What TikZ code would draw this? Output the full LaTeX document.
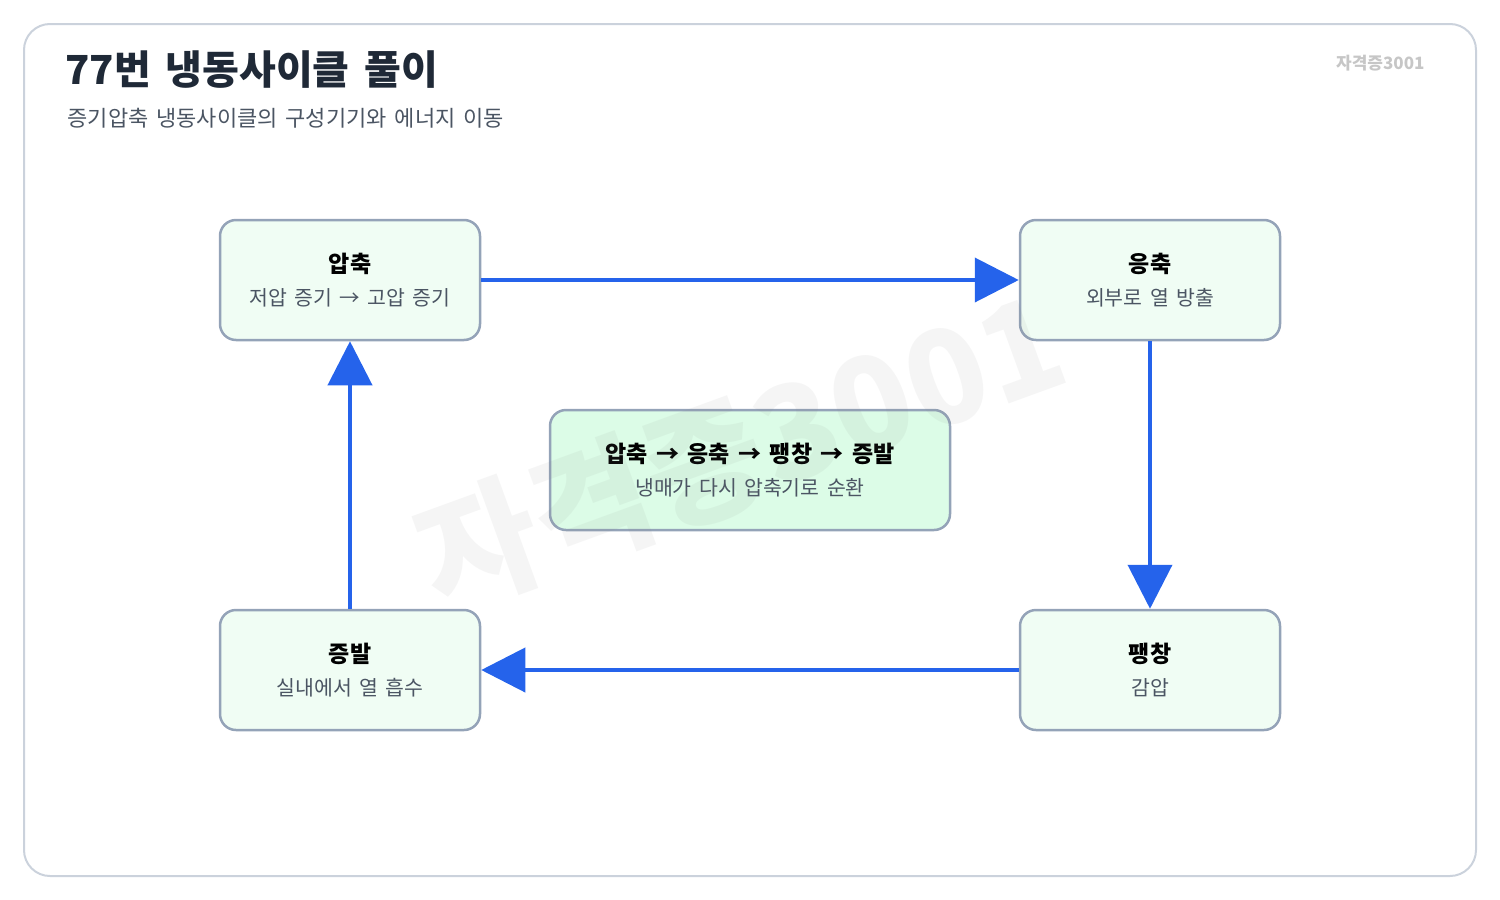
\documentclass[tikz,border=0pt]{standalone}
\usepackage{fontspec}
\setmainfont{Noto Sans CJK KR}[WordSpace={1.6}]
\usetikzlibrary{arrows.meta,positioning}
\definecolor{flowblue}{HTML}{2563EB}
\definecolor{boxline}{HTML}{94A3B8}
\definecolor{boxfill}{HTML}{F0FDF4}
\definecolor{midfill}{HTML}{DCFCE7}
\definecolor{frameline}{HTML}{CBD2DC}
\definecolor{titletext}{HTML}{1F2937}
\definecolor{subtext}{HTML}{4B5563}
\tikzset{
  stage/.style={draw=boxline, line width=2.5pt, fill=boxfill, rounded corners=16pt,
    minimum width=260pt, minimum height=120pt, align=center, inner sep=0pt},
  flow/.style={draw=flowblue, line width=4pt, -{Triangle[length=44pt,width=44pt]}},
}
\newcommand{\stagetext}[2]{{\fontsize{23}{27}\selectfont\bfseries #1}\\[13pt]{\fontsize{20.5}{24}\selectfont\color{subtext}#2}}
\begin{document}
\begin{tikzpicture}[x=1pt,y=-1pt]
  \useasboundingbox (0,0) rectangle (1500,900);
  \draw[frameline, line width=2pt, rounded corners=26pt] (24,24) rectangle (1476,876);
  % title
  \node[anchor=west, text=titletext, font=\fontsize{40}{44}\selectfont\bfseries] (title) at (62,70) {77번 냉동사이클 풀이};
  \node[anchor=west, text=subtext, font=\fontsize{22}{26}\selectfont] (subtitle) at (64,118) {증기압축 냉동사이클의 구성기기와 에너지 이동};
  \node[anchor=east, text=gray!45, font=\fontsize{17}{20}\selectfont\bfseries] (mark) at (1428,63) {자격증3001};
  % stages
  \node[stage] (comp) at (350,280) {\stagetext{압축}{저압 증기 → 고압 증기}};
  \node[stage] (cond) at (1150,280) {\stagetext{응축}{외부로 열 방출}};
  \node[stage] (expa) at (1150,670) {\stagetext{팽창}{감압}};
  \node[stage] (evap) at (350,670) {\stagetext{증발}{실내에서 열 흡수}};
  \node[stage, fill=midfill, minimum width=400pt] (cycle) at (750,470) {\stagetext{압축 → 응축 → 팽창 → 증발}{냉매가 다시 압축기로 순환}};
  % arrows
  \draw[flow] (comp.east) -- (cond.west);
  \draw[flow] (cond.south) -- (expa.north);
  \draw[flow] (expa.west) -- (evap.east);
  \draw[flow] (evap.north) -- (comp.south);
  % watermark
  \node[rotate=20, text=gray, opacity=0.08, font=\fontsize{130}{140}\selectfont\bfseries] (wm) at (740,450) {자격증3001};
\end{tikzpicture}
\end{document}
